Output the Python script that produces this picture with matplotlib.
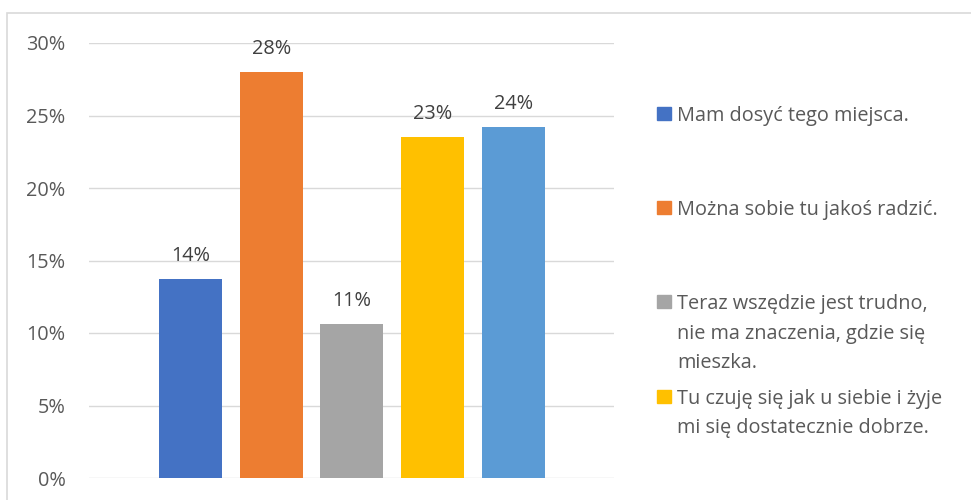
import matplotlib
matplotlib.use("Agg")
import matplotlib.pyplot as plt
from matplotlib.patches import Rectangle
from matplotlib.ticker import FuncFormatter

plt.rcParams['font.family'] = ['Open Sans', 'DejaVu Sans']

# dane
labels = [
    "Mam dosyć tego miejsca.",
    "Można sobie tu jakoś radzić.",
    "Teraz wszędzie jest trudno,\nnie ma znaczenia, gdzie się\nmieszka.",
    "Tu czuję się jak u siebie i żyje\nmi się dostatecznie dobrze.",
    "",
]
values = [0.137, 0.280, 0.106, 0.235, 0.242]
value_labels = ["14%", "28%", "11%", "23%", "24%"]
colors = ["#4472C4", "#ED7D31", "#A5A5A5", "#FFC000", "#5B9BD5"]
yticks = [0, 0.05, 0.10, 0.15, 0.20, 0.25, 0.30]

W, H = 971, 500
FS = 14.3
fig = plt.figure(figsize=(W / 100, H / 100), dpi=100)
ax = fig.add_axes([89 / W, 22 / H, 525 / W, 435 / H])

x = [0, 1, 2, 3, 4]
bars = ax.bar(x, values, width=0.78, color=colors, zorder=2)
for b, t in zip(bars, value_labels):
    ax.annotate(t, (b.get_x() + b.get_width() / 2, b.get_height()),
                xytext=(0, 13), textcoords="offset points",
                ha="center", va="baseline", fontsize=FS, color="#404040")

ax.set_xlim(-1.26, 5.25)
ax.set_ylim(0, 0.30)
ax.set_yticks(yticks)
ax.yaxis.set_major_formatter(FuncFormatter(lambda v, p: f"{v * 100:.0f}%"))
ax.tick_params(axis="y", length=0, pad=17, labelsize=FS, labelcolor="#595959")
ax.set_xticks([])
ax.grid(axis="y", color="#D9D9D9", linewidth=1, zorder=0)
for s in ax.spines.values():
    s.set_visible(False)

# legenda (ręcznie, jak w oryginale)
leg_base = [121, 215, 309, 404]
line_step = 29.5
for lab, c, yb in zip(labels[:4], colors[:4], leg_base):
    fig.patches.append(Rectangle((657 / W, 1 - (yb - 1) / H), 14 / W, 13 / H,
                                 transform=fig.transFigure, color=c))
    for i, line in enumerate(lab.split("\n")):
        fig.text(677 / W, 1 - (yb + i * line_step) / H, line, ha="left",
                 va="baseline", fontsize=FS, color="#595959")

# ramka wykresu
fig.patches.append(Rectangle((7 / W, -0.1), 1.2, 1 - 13 / H + 0.1,
                             transform=fig.transFigure, fill=False,
                             edgecolor="#D9D9D9", linewidth=1.2))

fig.savefig("out.png", dpi=100)
